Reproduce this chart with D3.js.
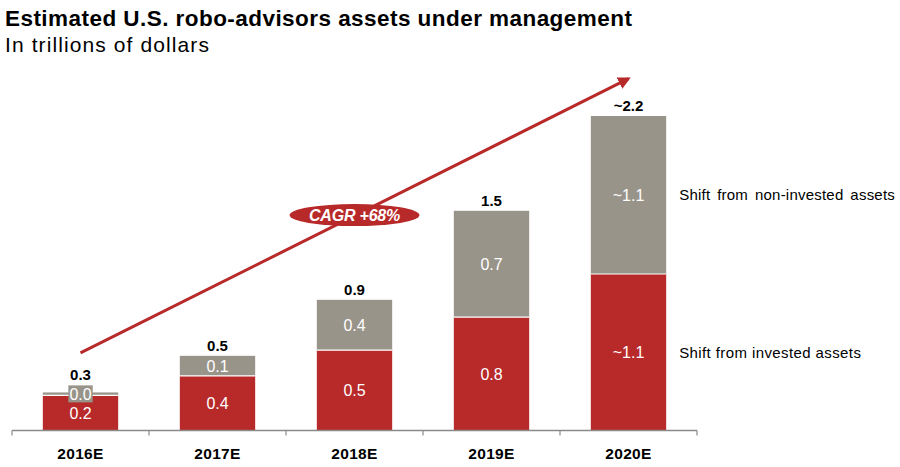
<!DOCTYPE html>
<html>
<head>
<meta charset="utf-8">
<script src="https://cdn.jsdelivr.net/npm/d3@7"></script>
<style>
  body { margin: 0; background: #fff; }
  svg { display: block; font-family: "Liberation Sans", Arial, sans-serif; }
</style>
</head>
<body>
<svg id="chart" width="900" height="467"></svg>
<script>
// data (trillions of dollars)
const years = ["2016E", "2017E", "2018E", "2019E", "2020E"];
const invested = [0.245, 0.38, 0.56, 0.79, 1.09];
const nonInvested = [0.02, 0.14, 0.35, 0.74, 1.10];
const investedLabels = ["0.2", "0.4", "0.5", "0.8", "~1.1"];
const nonInvestedLabels = ["0.0", "0.1", "0.4", "0.7", "~1.1"];
const totalLabels = ["0.3", "0.5", "0.9", "1.5", "~2.2"];
const seriesNames = ["Shift from invested assets", "Shift from non-invested assets"];
// CAGR arrow, in data terms: [category, value]
const arrowFrom = ["2016E", 0.54];
const arrowTo = ["2020E", 2.45];
const cagrAt = ["2018E", 1.50];
const cagrText = "CAGR +68%";

const RED = "#b8292a";
const GRAY = "#99948a";

const svg = d3.select("#chart");

svg.append("text").attr("x", 5).attr("y", 26)
  .attr("font-size", 22.5).attr("font-weight", "bold").attr("fill", "#000")
  .attr("letter-spacing", 0.45)
  .text("Estimated U.S. robo-advisors assets under management");
svg.append("text").attr("x", 5).attr("y", 52)
  .attr("font-size", 21).attr("fill", "#000")
  .attr("letter-spacing", 1.1)
  .text("In trillions of dollars");

const x = d3.scaleBand().domain(years).range([12, 697])
  .paddingInner(0.45).paddingOuter(0.225);
const y = d3.scaleLinear().domain([0, 2.5]).range([430.5, 71.5]);

const rows = years.map((yr, i) => ({
  yr,
  inv: invested[i],
  non: nonInvested[i],
  invLabel: investedLabels[i],
  nonLabel: nonInvestedLabels[i],
  total: totalLabels[i]
}));

// bars
const g = svg.append("g");
g.selectAll("rect.inv").data(rows).enter().append("rect")
  .attr("class", "inv")
  .attr("x", d => x(d.yr)).attr("width", x.bandwidth())
  .attr("y", d => y(d.inv)).attr("height", d => y(0) - y(d.inv))
  .attr("fill", RED);
g.selectAll("rect.non").data(rows).enter().append("rect")
  .attr("class", "non")
  .attr("x", d => x(d.yr)).attr("width", x.bandwidth())
  .attr("y", d => y(d.inv + d.non)).attr("height", d => y(d.inv) - y(d.inv + d.non))
  .attr("fill", GRAY);
// white seam between segments
g.selectAll("line.seam").data(rows).enter().append("line")
  .attr("x1", d => x(d.yr)).attr("x2", d => x(d.yr) + x.bandwidth())
  .attr("y1", d => y(d.inv)).attr("y2", d => y(d.inv))
  .attr("stroke", "#fff").attr("stroke-width", 1.2);

// axis: baseline with ticks at the band boundaries
const step = x.step();
const bounds = d3.range(years.length + 1).map(i => x.range()[0] + i * step);
svg.append("line")
  .attr("x1", bounds[0]).attr("x2", bounds[bounds.length - 1])
  .attr("y1", y(0)).attr("y2", y(0))
  .attr("stroke", "#8a8a8a").attr("stroke-width", 1.5);
svg.selectAll("line.tick").data(bounds).enter().append("line")
  .attr("x1", d => d).attr("x2", d => d)
  .attr("y1", y(0)).attr("y2", y(0) + 5)
  .attr("stroke", "#8a8a8a").attr("stroke-width", 1.2);
svg.selectAll("text.cat").data(years).enter().append("text")
  .attr("x", d => x(d) + x.bandwidth() / 2).attr("y", 459)
  .attr("text-anchor", "middle").attr("font-size", 15.5).attr("font-weight", "bold")
  .attr("letter-spacing", 0.3)
  .text(d => d);

const cx = d => x(d.yr) + x.bandwidth() / 2;

// segment labels
g.selectAll("text.invl").data(rows).enter().append("text")
  .attr("x", cx).attr("y", d => (y(0) + y(d.inv)) / 2)
  .attr("dy", "0.36em").attr("text-anchor", "middle")
  .attr("font-size", 16).attr("fill", "#fff")
  .text(d => d.invLabel);

const nonG = g.selectAll("g.nonl").data(rows).enter().append("g");
nonG.each(function(d) {
  const sel = d3.select(this);
  const ym = (y(d.inv) + y(d.inv + d.non)) / 2;
  const segH = y(d.inv) - y(d.inv + d.non);
  const t = sel.append("text")
    .attr("x", cx(d)).attr("y", ym).attr("dy", "0.36em")
    .attr("text-anchor", "middle").attr("font-size", 16).attr("fill", "#fff")
    .text(d.nonLabel);
  if (segH < 16) {
    // too thin: give the label its own gray box
    const bb = t.node().getBBox();
    sel.insert("rect", "text")
      .attr("x", bb.x - 1).attr("y", ym - 8.5)
      .attr("width", bb.width + 2).attr("height", 17)
      .attr("fill", GRAY);
    d.labelTop = ym - 8.5;
  }
});

// totals
g.selectAll("text.tot").data(rows).enter().append("text")
  .attr("x", cx)
  .attr("y", d => Math.min(y(d.inv + d.non), d.labelTop || 1e9) - 5)
  .attr("text-anchor", "middle").attr("font-size", 15).attr("font-weight", "bold")
  .attr("fill", "#000")
  .text(d => d.total);

// series labels to the right of the last bar
const last = rows[rows.length - 1];
const lx = x(last.yr) + x.bandwidth() + 13;
svg.append("text").attr("x", lx).attr("y", (y(0) + y(last.inv)) / 2).attr("dy", "0.36em")
  .attr("font-size", 15).attr("fill", "#000").attr("letter-spacing", 0.4)
  .text(seriesNames[0]);
svg.append("text").attr("x", lx).attr("y", (y(last.inv) + y(last.inv + last.non)) / 2).attr("dy", "0.36em")
  .attr("font-size", 15).attr("fill", "#000").attr("letter-spacing", 0.22)
  .attr("word-spacing", 2.5).text(seriesNames[1]);

// CAGR arrow
const ax1 = x(arrowFrom[0]) + x.bandwidth() / 2, ay1 = y(arrowFrom[1]);
const ax2 = x(arrowTo[0]) + x.bandwidth() / 2, ay2 = y(arrowTo[1]);
svg.append("defs").append("marker")
  .attr("id", "head").attr("viewBox", "0 0 10 10")
  .attr("refX", 8).attr("refY", 5)
  .attr("markerWidth", 4.2).attr("markerHeight", 4.2)
  .attr("orient", "auto")
  .append("path").attr("d", "M0,0 L10,5 L0,10 z").attr("fill", RED);
svg.append("line")
  .attr("x1", ax1).attr("y1", ay1).attr("x2", ax2).attr("y2", ay2)
  .attr("stroke", RED).attr("stroke-width", 3)
  .attr("marker-end", "url(#head)");

const ex = x(cagrAt[0]) + x.bandwidth() / 2, ey = y(cagrAt[1]);
svg.append("ellipse").attr("cx", ex).attr("cy", ey)
  .attr("rx", 65).attr("ry", 11).attr("fill", RED);
svg.append("text").attr("x", ex).attr("y", ey).attr("dy", "0.36em")
  .attr("text-anchor", "middle").attr("font-size", 16)
  .attr("font-weight", "bold").attr("font-style", "italic").attr("fill", "#fff")
  .attr("letter-spacing", -0.2)
  .text(cagrText);
</script>
</body>
</html>
